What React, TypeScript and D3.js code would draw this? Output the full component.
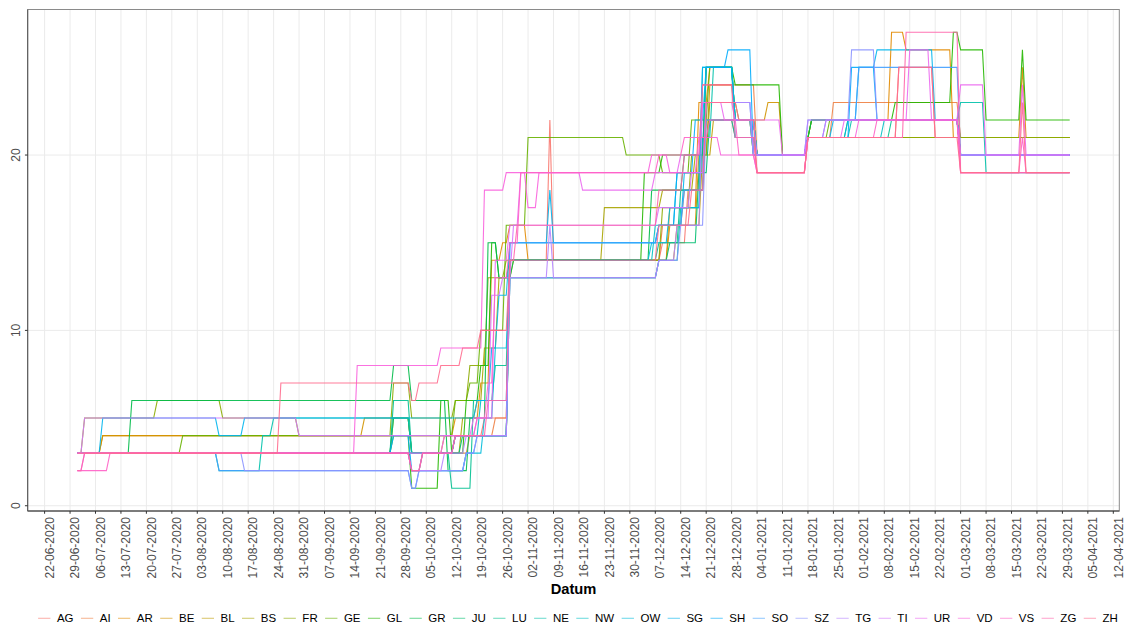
import React, { useEffect, useRef } from "react";
import * as d3 from "d3";

type Step = [string, number];

// cantons in legend order
const cantons = [
  "AG", "AI", "AR", "BE", "BL", "BS", "FR", "GE", "GL", "GR", "JU", "LU", "NE",
  "NW", "OW", "SG", "SH", "SO", "SZ", "TG", "TI", "UR", "VD", "VS", "ZG", "ZH",
];

const firstDay = "2020-07-01";
const lastDay = "2021-03-31";
const firstTick = "2020-06-22";
const lastTick = "2021-04-12";
const yTicks = [0, 10, 20];

// value changes per canton: [date from which the value holds, value]
const AG: Step[] = [["2020-07-01", 3], ["2020-10-13", 4], ["2020-10-21", 5], ["2020-10-28", 14], ["2020-11-08", 22], ["2020-11-09", 14], ["2020-12-09", 15], ["2020-12-16", 18], ["2020-12-21", 22], ["2020-12-29", 21], ["2021-01-04", 19], ["2021-01-18", 21], ["2021-02-12", 25], ["2021-02-22", 21]];
const AI: Step[] = [["2020-07-01", 3], ["2020-10-01", 2], ["2020-10-04", 3], ["2020-10-17", 4], ["2020-10-24", 5], ["2020-10-28", 14], ["2020-12-09", 16], ["2020-12-15", 18], ["2020-12-20", 24], ["2021-01-04", 20], ["2021-01-18", 21], ["2021-01-25", 23], ["2021-03-01", 21]];
const AR: Step[] = [["2020-07-01", 3], ["2020-07-08", 4], ["2020-10-13", 5], ["2020-10-20", 7], ["2020-10-23", 14], ["2020-10-26", 15], ["2020-10-28", 16], ["2020-11-02", 14], ["2020-12-11", 17], ["2020-12-19", 23], ["2020-12-22", 25], ["2020-12-29", 22], ["2021-01-04", 20], ["2021-01-18", 21], ["2021-01-19", 22], ["2021-02-10", 27], ["2021-02-14", 26], ["2021-02-27", 21], ["2021-03-18", 25], ["2021-03-19", 21]];
const BE: Step[] = [["2020-07-01", 3], ["2020-07-08", 4], ["2020-09-18", 5], ["2020-10-01", 3], ["2020-10-10", 4], ["2020-10-28", 14], ["2020-12-11", 16], ["2020-12-19", 20], ["2020-12-22", 24], ["2020-12-29", 22], ["2021-01-07", 23], ["2021-01-11", 20], ["2021-01-18", 21]];
const BL: Step[] = [["2020-07-01", 3], ["2020-10-13", 4], ["2020-10-28", 14], ["2020-12-13", 16], ["2020-12-20", 20], ["2020-12-23", 22], ["2021-01-03", 20], ["2021-01-18", 21]];
const BS: Step[] = [["2020-07-01", 3], ["2020-09-26", 5], ["2020-10-01", 3], ["2020-10-15", 5], ["2020-10-19", 6], ["2020-10-21", 9], ["2020-10-25", 13], ["2020-10-29", 14], ["2020-11-23", 17], ["2020-12-09", 18], ["2020-12-18", 20], ["2020-12-21", 22], ["2021-01-04", 20], ["2021-01-18", 21], ["2021-01-19", 22], ["2021-03-01", 21]];
const FR: Step[] = [["2020-07-01", 3], ["2020-07-03", 5], ["2020-07-23", 6], ["2020-08-10", 5], ["2020-08-31", 4], ["2020-09-26", 7], ["2020-10-01", 5], ["2020-10-13", 6], ["2020-10-17", 8], ["2020-10-22", 13], ["2020-10-27", 14], ["2020-12-09", 17], ["2020-12-17", 20], ["2020-12-22", 23], ["2020-12-30", 22], ["2021-01-04", 20], ["2021-01-18", 21]];
const GE: Step[] = [["2020-07-01", 3], ["2020-07-30", 4], ["2020-10-13", 6], ["2020-10-17", 7], ["2020-10-20", 10], ["2020-10-27", 16], ["2020-11-02", 21], ["2020-11-29", 20], ["2020-12-09", 19], ["2020-12-17", 22], ["2020-12-22", 25], ["2020-12-29", 22], ["2021-01-04", 20], ["2021-01-18", 21], ["2021-01-24", 22], ["2021-03-01", 20]];
const GL: Step[] = [["2020-07-01", 3], ["2020-09-26", 4], ["2020-10-01", 1], ["2020-10-09", 6], ["2020-10-12", 3], ["2020-10-16", 6], ["2020-10-20", 8], ["2020-10-23", 15], ["2020-10-25", 13], ["2020-10-28", 14], ["2020-12-04", 19], ["2020-12-09", 20], ["2020-12-21", 25], ["2020-12-29", 24], ["2021-01-11", 20], ["2021-01-18", 21], ["2021-01-19", 22], ["2021-02-11", 23], ["2021-02-27", 27], ["2021-03-01", 26], ["2021-03-08", 22], ["2021-03-18", 26], ["2021-03-19", 22]];
const GR: Step[] = [["2020-07-01", 3], ["2020-07-16", 6], ["2020-09-26", 8], ["2020-10-01", 6], ["2020-10-11", 2], ["2020-10-17", 5], ["2020-10-22", 15], ["2020-10-25", 13], ["2020-10-29", 14], ["2020-12-06", 18], ["2020-12-15", 20], ["2020-12-21", 25], ["2020-12-29", 22], ["2021-01-04", 20], ["2021-01-18", 21], ["2021-01-19", 22], ["2021-03-01", 20]];
const JU: Step[] = [["2020-07-01", 3], ["2020-09-26", 5], ["2020-10-01", 3], ["2020-10-15", 4], ["2020-10-28", 13], ["2020-12-08", 14], ["2020-12-11", 15], ["2020-12-19", 19], ["2020-12-22", 22], ["2021-01-03", 20], ["2021-01-18", 21], ["2021-01-29", 22], ["2021-03-01", 20]];
const LU: Step[] = [["2020-07-01", 3], ["2020-09-26", 6], ["2020-10-01", 3], ["2020-10-12", 1], ["2020-10-18", 6], ["2020-10-24", 8], ["2020-10-28", 14], ["2020-12-08", 15], ["2020-12-14", 18], ["2020-12-21", 22], ["2020-12-29", 21], ["2021-01-04", 20], ["2021-01-18", 21], ["2021-02-10", 22], ["2021-03-01", 20]];
const NE: Step[] = [["2020-07-01", 3], ["2020-08-09", 2], ["2020-08-21", 4], ["2020-08-24", 5], ["2020-10-01", 3], ["2020-10-13", 4], ["2020-10-28", 13], ["2020-12-08", 14], ["2020-12-14", 17], ["2020-12-20", 21], ["2020-12-23", 25], ["2020-12-29", 22], ["2021-01-04", 20], ["2021-01-18", 21], ["2021-01-30", 22], ["2021-03-01", 23], ["2021-03-08", 19]];
const NW: Step[] = [["2020-07-01", 3], ["2020-10-13", 4], ["2020-10-20", 6], ["2020-10-28", 14], ["2020-12-07", 16], ["2020-12-13", 19], ["2020-12-21", 25], ["2020-12-29", 22], ["2021-01-04", 20], ["2021-01-18", 21], ["2021-02-08", 22], ["2021-03-01", 20]];
const OW: Step[] = [["2020-07-01", 3], ["2020-10-01", 2], ["2020-10-16", 3], ["2020-10-21", 5], ["2020-10-24", 9], ["2020-10-28", 14], ["2020-12-06", 15], ["2020-12-11", 17], ["2020-12-20", 25], ["2020-12-29", 21], ["2021-01-04", 20], ["2021-01-18", 21], ["2021-01-29", 22], ["2021-03-01", 20]];
const SG: Step[] = [["2020-07-01", 3], ["2020-07-08", 5], ["2020-08-09", 4], ["2020-08-16", 5], ["2020-10-19", 6], ["2020-10-23", 9], ["2020-10-25", 12], ["2020-10-28", 15], ["2020-11-08", 18], ["2020-11-09", 15], ["2020-12-08", 16], ["2020-12-15", 19], ["2020-12-20", 25], ["2020-12-29", 22], ["2021-01-04", 20], ["2021-01-18", 21], ["2021-01-25", 22], ["2021-02-01", 25], ["2021-02-06", 26], ["2021-02-22", 22], ["2021-03-01", 20]];
const SH: Step[] = [["2020-07-01", 3], ["2020-09-26", 4], ["2020-10-01", 2], ["2020-10-04", 3], ["2020-10-13", 4], ["2020-10-28", 15], ["2020-12-08", 16], ["2020-12-13", 19], ["2020-12-18", 22], ["2020-12-21", 25], ["2020-12-27", 26], ["2021-01-03", 20], ["2021-01-18", 21], ["2021-01-30", 25], ["2021-02-06", 22], ["2021-03-01", 20]];
const SO: Step[] = [["2020-07-01", 3], ["2020-08-09", 2], ["2020-10-01", 1], ["2020-10-03", 2], ["2020-10-16", 3], ["2020-10-19", 4], ["2020-10-28", 15], ["2020-12-08", 16], ["2020-12-15", 18], ["2020-12-21", 23], ["2021-01-03", 20], ["2021-01-18", 21], ["2021-01-23", 22], ["2021-02-01", 25], ["2021-03-01", 20]];
const SZ: Step[] = [["2020-07-01", 3], ["2020-08-16", 2], ["2020-10-01", 1], ["2020-10-03", 2], ["2020-10-16", 3], ["2020-10-19", 4], ["2020-10-28", 13], ["2020-12-08", 14], ["2020-12-14", 16], ["2020-12-21", 22], ["2021-01-03", 20], ["2021-01-18", 22], ["2021-01-30", 26], ["2021-02-06", 22], ["2021-03-01", 20]];
const TG: Step[] = [["2020-07-01", 3], ["2020-10-01", 2], ["2020-10-10", 3], ["2020-10-16", 4], ["2020-10-28", 13], ["2020-11-08", 16], ["2020-11-09", 13], ["2020-12-08", 14], ["2020-12-13", 16], ["2020-12-20", 23], ["2021-01-03", 20], ["2021-01-18", 22], ["2021-03-01", 20]];
const TI: Step[] = [["2020-07-01", 3], ["2020-07-03", 5], ["2020-08-31", 4], ["2020-10-19", 5], ["2020-10-23", 12], ["2020-10-26", 13], ["2020-10-29", 16], ["2020-12-08", 17], ["2020-12-17", 19], ["2020-12-21", 23], ["2020-12-29", 22], ["2021-01-04", 20], ["2021-01-18", 21], ["2021-01-23", 22], ["2021-03-01", 20]];
const UR: Step[] = [["2020-07-01", 2], ["2020-07-03", 3], ["2020-10-10", 4], ["2020-10-18", 5], ["2020-10-24", 14], ["2020-10-28", 16], ["2020-10-31", 19], ["2020-11-17", 18], ["2020-12-07", 19], ["2020-12-14", 20], ["2020-12-20", 23], ["2020-12-26", 22], ["2021-01-11", 20], ["2021-01-18", 21], ["2021-01-28", 22], ["2021-02-15", 26], ["2021-02-21", 22], ["2021-03-01", 24], ["2021-03-08", 20], ["2021-03-18", 24], ["2021-03-19", 20]];
const VD: Step[] = [["2020-07-01", 3], ["2020-09-16", 8], ["2020-10-09", 9], ["2020-10-21", 18], ["2020-10-27", 19], ["2020-11-02", 17], ["2020-11-05", 19], ["2020-12-06", 20], ["2020-12-11", 19], ["2020-12-19", 21], ["2020-12-25", 20], ["2021-01-04", 19], ["2021-01-18", 21], ["2021-02-01", 22], ["2021-03-01", 19]];
const VS: Step[] = [["2020-07-01", 2], ["2020-07-10", 3], ["2020-10-01", 2], ["2020-10-04", 3], ["2020-10-13", 4], ["2020-10-19", 5], ["2020-10-22", 7], ["2020-10-24", 13], ["2020-10-28", 15], ["2020-10-31", 19], ["2020-12-08", 20], ["2020-12-15", 21], ["2020-12-22", 22], ["2020-12-30", 20], ["2021-01-04", 19], ["2021-01-18", 21], ["2021-02-06", 22], ["2021-03-01", 19], ["2021-03-18", 21], ["2021-03-19", 19]];
const ZG: Step[] = [["2020-07-01", 2], ["2020-07-03", 3], ["2020-10-01", 2], ["2020-10-04", 3], ["2020-10-13", 4], ["2020-10-22", 6], ["2020-10-28", 14], ["2020-10-30", 16], ["2020-12-08", 18], ["2020-12-15", 20], ["2020-12-20", 24], ["2020-12-29", 21], ["2021-01-04", 19], ["2021-01-18", 21], ["2021-02-14", 27], ["2021-03-01", 19]];
const ZH: Step[] = [["2020-07-01", 3], ["2020-08-26", 7], ["2020-10-01", 6], ["2020-10-03", 7], ["2020-10-09", 8], ["2020-10-15", 9], ["2020-10-20", 10], ["2020-10-28", 14], ["2020-12-08", 16], ["2020-12-17", 18], ["2020-12-21", 23], ["2020-12-30", 22], ["2021-01-04", 19], ["2021-01-18", 21], ["2021-02-12", 25], ["2021-02-22", 21], ["2021-03-01", 19], ["2021-03-18", 23], ["2021-03-19", 19]];

const steps: Record<string, Step[]> = {
  AG, AI, AR, BE, BL, BS, FR, GE, GL, GR, JU, LU, NE, NW, OW, SG, SH, SO, SZ, TG, TI, UR, VD, VS, ZG, ZH,
};

const parse = d3.timeParse("%Y-%m-%d");
const FONT = "'Liberation Sans', Arial, Helvetica, sans-serif";

// R's hcl() (polar LUV) -> hex, used for ggplot's default hue palette
function hcl(h: number, c: number, l: number) {
  const hr = (h * Math.PI) / 180;
  const U = c * Math.cos(hr), V = c * Math.sin(hr);
  const Y = 100 * (l > 7.999592 ? Math.pow((l + 16) / 116, 3) : l / 903.3);
  const u = U / (13 * l) + 0.1978398;
  const v = V / (13 * l) + 0.4683363;
  const X = (9 * Y * u) / (4 * v);
  const Z = -X / 3 - 5 * Y + (3 * Y) / v;
  const g = (t: number) => {
    t = t <= 0.0031308 ? 12.92 * t : 1.055 * Math.pow(t, 1 / 2.4) - 0.055;
    return Math.round(255 * Math.max(0, Math.min(1, t)));
  };
  const x = X / 100, y = Y / 100, z = Z / 100;
  return d3.rgb(
    g(3.240479 * x - 1.53715 * y - 0.498535 * z),
    g(-0.969256 * x + 1.875992 * y + 0.041556 * z),
    g(0.055648 * x - 0.204043 * y + 1.057311 * z)
  ).formatHex();
}

function daily(list: Step[]) {
  const days = d3.timeDay.range(parse(firstDay)!, d3.timeDay.offset(parse(lastDay)!, 1));
  let i = 0;
  return days.map((d) => {
    while (i + 1 < list.length && parse(list[i + 1][0])! <= d) i++;
    return { date: d, value: list[i][1] };
  });
}

function draw(node: SVGSVGElement) {
  const svg = d3.select(node);
  svg.selectAll("*").remove();

  const left = 27.7, right = 1119.3, top = 9.5, bottom = 511;

  const colors = d3.scaleOrdinal<string, string>()
    .domain(cantons)
    .range(cantons.map((_, i) => hcl(15 + (i * 360) / cantons.length, 100, 65)));

  const series = cantons.map((c) => ({ name: c, values: daily(steps[c]) }));

  // ggplot-like 5% expansion
  const t0 = +parse(firstDay)!, t1 = +parse(lastDay)!;
  const span = t1 - t0;
  const x = d3.scaleTime()
    .domain([new Date(t0 - 0.05 * span), new Date(t1 + 0.05 * span)])
    .range([left, right]);
  const [vmin, vmax] = d3.extent(series.flatMap((s) => s.values.map((d) => d.value))) as [number, number];
  const pad = 0.05 * (vmax - vmin);
  const y = d3.scaleLinear().domain([vmin - pad, vmax + pad]).range([bottom, top]);

  const weeks = d3.timeMonday.range(parse(firstTick)!, d3.timeDay.offset(parse(lastTick)!, 1));
  const fmt = d3.timeFormat("%d-%m-%Y");

  // grid
  svg.append("g")
    .selectAll("line")
    .data(weeks)
    .enter()
    .append("line")
    .attr("x1", (d) => x(d)).attr("x2", (d) => x(d))
    .attr("y1", top).attr("y2", bottom)
    .attr("stroke", "#EBEBEB").attr("stroke-width", 1);
  svg.append("g")
    .selectAll("line")
    .data(yTicks)
    .enter()
    .append("line")
    .attr("x1", left).attr("x2", right)
    .attr("y1", (d) => y(d)).attr("y2", (d) => y(d))
    .attr("stroke", "#EBEBEB").attr("stroke-width", 1);

  // lines
  const line = d3.line<{ date: Date; value: number }>()
    .x((d) => x(d.date))
    .y((d) => y(d.value));
  svg.append("g")
    .selectAll("path")
    .data(series)
    .enter()
    .append("path")
    .attr("d", (s) => line(s.values))
    .attr("fill", "none")
    .attr("stroke", (s) => colors(s.name))
    .attr("stroke-width", 1.1)
    .attr("stroke-opacity", 0.9);

  // panel border
  svg.append("rect")
    .attr("x", left).attr("y", top)
    .attr("width", right - left).attr("height", bottom - top)
    .attr("fill", "none").attr("stroke", "#8a8a8a").attr("stroke-width", 1);
  svg.append("line")
    .attr("x1", left).attr("x2", right).attr("y1", bottom).attr("y2", bottom)
    .attr("stroke", "#333").attr("stroke-width", 1);
  svg.append("line")
    .attr("x1", left).attr("x2", left).attr("y1", top).attr("y2", bottom)
    .attr("stroke", "#555").attr("stroke-width", 1);

  // x axis
  const xa = svg.append("g");
  xa.selectAll("line")
    .data(weeks)
    .enter()
    .append("line")
    .attr("x1", (d) => x(d)).attr("x2", (d) => x(d))
    .attr("y1", bottom).attr("y2", bottom + 2.75)
    .attr("stroke", "#333");
  xa.selectAll("text")
    .data(weeks)
    .enter()
    .append("text")
    .attr("transform", (d) => `translate(${x(d) + 9.2},${bottom + 6}) rotate(-90)`)
    .attr("text-anchor", "end")
    .style("font-family", FONT)
    .style("font-size", "12px")
    .attr("fill", "#4D4D4D")
    .text((d) => fmt(d));

  // y axis
  const ya = svg.append("g");
  ya.selectAll("line")
    .data(yTicks)
    .enter()
    .append("line")
    .attr("x1", left - 2.75).attr("x2", left)
    .attr("y1", (d) => y(d)).attr("y2", (d) => y(d))
    .attr("stroke", "#333");
  ya.selectAll("text")
    .data(yTicks)
    .enter()
    .append("text")
    .attr("transform", (d) => `translate(${left - 7.3},${y(d)}) rotate(-90)`)
    .attr("text-anchor", "middle")
    .style("font-family", FONT)
    .style("font-size", "12px")
    .attr("fill", "#4D4D4D")
    .text((d) => String(d));

  // x title
  svg.append("text")
    .attr("x", (left + right) / 2)
    .attr("y", 594)
    .attr("text-anchor", "middle")
    .style("font-family", FONT)
    .style("font-size", "14.7px")
    .style("font-weight", "bold")
    .attr("fill", "#000")
    .text("Datum");

  // legend
  const lg = svg.append("g");
  const items = lg.selectAll("g")
    .data(cantons)
    .enter()
    .append("g");
  items.append("line")
    .attr("x1", 0).attr("x2", 12.3)
    .attr("y1", 0).attr("y2", 0)
    .attr("stroke", (d) => colors(d))
    .attr("stroke-width", 1.1)
    .attr("stroke-opacity", 0.55);
  items.append("text")
    .attr("x", 18.8)
    .attr("y", 4.1)
    .style("font-family", FONT)
    .style("font-size", "11.5px")
    .attr("fill", "#000")
    .text((d) => d);
  let pos = 0;
  const offsets: number[] = [];
  items.each(function () {
    offsets.push(pos);
    const w = (d3.select(this).select("text").node() as SVGTextElement).getComputedTextLength();
    pos += 18.8 + w + 7.4;
  });
  const total = pos - 7.4;
  const start = 578 - total / 2;
  items.attr("transform", (_, i) => `translate(${start + offsets[i]},618.3)`);
}

export default function App() {
  const ref = useRef<SVGSVGElement>(null);
  useEffect(() => {
    if (ref.current) draw(ref.current);
  }, []);
  return (
    <svg
      ref={ref}
      width={1130}
      height={625}
      style={{ position: "absolute", left: 0, top: 0, background: "#fff" }}
    />
  );
}
